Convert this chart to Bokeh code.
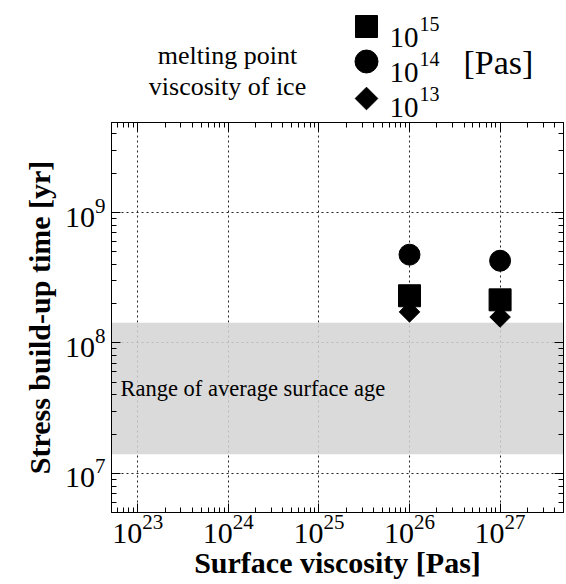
import math
from bokeh.plotting import figure
from bokeh.models import (LogAxis, Range1d, BoxAnnotation, Label, FixedTicker,
                          CustomJSTickFormatter, ColumnDataSource)
from bokeh.layouts import column
from bokeh.embed import file_html
from bokeh.resources import INLINE
from bokeh.core.properties import value

# ---------------- data ----------------
surface_visc = [1e26, 1e27]          # x: surface viscosity [Pas]
t_ice15 = [2.30e8, 2.14e8]           # melting point viscosity 1e15 (squares)
t_ice14 = [4.75e8, 4.27e8]           # melting point viscosity 1e14 (circles)
t_ice13 = [1.73e8, 1.58e8]           # melting point viscosity 1e13 (diamonds)
age_min, age_max = 1.4e7, 1.43e8     # range of average surface age [yr]
x_lo, x_hi = 10 ** 22.71, 10 ** 27.70
y_lo, y_hi = 10 ** 6.70, 10 ** 9.69
x_decades = [22, 23, 24, 25, 26, 27]
y_decades = [6, 7, 8, 9]
legend_exps = ["15", "14", "13"]

FONT = "Liberation Serif"
W = 566
BL, BR = 111, 3
LEG_H = 122
MAIN_H = 462

# ---------------- legend header (own figure, pixel coordinates) ----------------
leg = figure(width=W, height=LEG_H, x_range=Range1d(BL, W - BR), y_range=Range1d(LEG_H, 0),
             output_backend="svg", toolbar_location=None,
             min_border_left=BL, min_border_right=BR, min_border_top=0, min_border_bottom=0,
             outline_line_color=None)
leg.axis.visible = False
leg.grid.visible = False

leg.text(x=[227, 227], y=[55, 86], text=["melting point", "viscosity of ice"],
         text_font=value(FONT), text_font_size="26px", text_align="center",
         text_baseline="middle", text_color="black")

leg.scatter(x=[366], y=[26], marker="square", size=22, color="black")
leg.scatter(x=[366], y=[61], marker="circle", size=23, color="black")
leg.scatter(x=[366], y=[98], marker="square", size=16, angle=math.pi / 4, color="black")

base_y = [37, 72, 107]
leg.text(x=[389] * 3, y=base_y, text=["10"] * 3, text_font=value(FONT),
         text_font_size="29px", text_baseline="alphabetic", text_color="black")
leg.text(x=[419] * 3, y=[b - 14 for b in base_y], text=legend_exps, text_font=value(FONT),
         text_font_size="20px", text_baseline="alphabetic", text_color="black")
leg.text(x=[463], y=[62], text=["[Pas]"], text_font=value(FONT),
         text_font_size="34px", text_baseline="middle", text_color="black")

# ---------------- main plot ----------------
p = figure(width=W, height=MAIN_H, x_axis_type="log", y_axis_type="log",
           x_range=Range1d(x_lo, x_hi), y_range=Range1d(y_lo, y_hi),
           output_backend="svg", toolbar_location=None,
           min_border_left=BL, min_border_right=BR, min_border_top=0,
           min_border_bottom=72, outline_line_color="black")

bottom_ax = p.below[0]
left_ax = p.left[0]

x_major = [10.0 ** d for d in x_decades]
x_minor = [m * 10.0 ** d for d in x_decades for m in range(2, 10)]
y_major = [10.0 ** d for d in y_decades]
y_minor = [m * 10.0 ** d for d in y_decades for m in range(2, 10)]
xt = FixedTicker(ticks=x_major, minor_ticks=x_minor)
yt = FixedTicker(ticks=y_major, minor_ticks=y_minor)

bottom_ax.ticker = xt
left_ax.ticker = yt
p.xgrid.ticker = xt
p.ygrid.ticker = yt

for g in (p.xgrid, p.ygrid):
    g.grid_line_color = "#222222"
    g.grid_line_dash = "2 3"
    g.grid_line_width = 1

top_ax = LogAxis(ticker=xt, formatter=CustomJSTickFormatter(code="return ''"))
right_ax = LogAxis(ticker=yt, formatter=CustomJSTickFormatter(code="return ''"))
p.add_layout(top_ax, "above")
p.add_layout(right_ax, "right")

for ax in (bottom_ax, left_ax, top_ax, right_ax):
    ax.major_tick_in = 9
    ax.major_tick_out = 0
    ax.minor_tick_in = 5
    ax.minor_tick_out = 0
    ax.axis_line_color = "black"
    ax.major_tick_line_color = "black"
    ax.minor_tick_line_color = "black"
for ax in (top_ax, right_ax):
    ax.major_label_text_font_size = "0px"
    ax.major_label_standoff = 0

for ax in (bottom_ax, left_ax):
    ax.major_label_text_font = FONT
    ax.major_label_text_font_size = "30px"
    ax.major_label_text_color = "black"
    ax.axis_label_text_font = FONT
    ax.axis_label_text_font_style = "bold"
    ax.axis_label_text_font_size = "30px"
    ax.axis_label_text_color = "black"

bottom_ax.axis_label = "Surface viscosity [Pas]"
left_ax.axis_label = "Stress build-up time [yr]"
bottom_ax.major_label_standoff = 2
bottom_ax.axis_label_standoff = 0
left_ax.major_label_standoff = 6
left_ax.axis_label_standoff = 6
left_ax.major_label_orientation = "horizontal"

band = BoxAnnotation(bottom=age_min, top=age_max, fill_color="#d3d3d3", fill_alpha=0.85,
                     line_color=None, level="underlay")
p.add_layout(band)
p.add_layout(Label(x=x_lo, y=math.sqrt(age_min * age_max), x_offset=9,
                   text="Range of average surface age", text_font=FONT,
                   text_font_size="22.5px", text_baseline="middle", text_color="black"))

src = ColumnDataSource(dict(x=surface_visc, t15=t_ice15, t14=t_ice14, t13=t_ice13))
p.scatter("x", "t13", source=src, marker="square", size=14.5, angle=math.pi / 4, color="black")
p.scatter("x", "t15", source=src, marker="square", size=22, color="black")
p.scatter("x", "t14", source=src, marker="circle", size=21, color="black")

layout = column(leg, p, spacing=0)
open("out.html", "w").write(file_html(layout, INLINE))
